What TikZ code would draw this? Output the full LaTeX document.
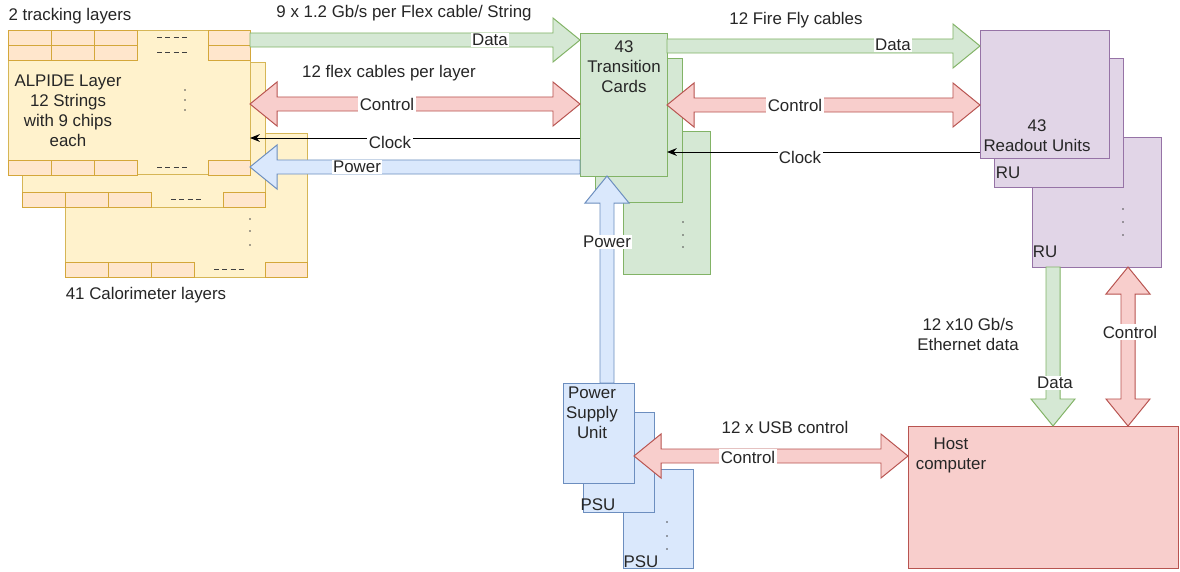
\documentclass[tikz,border=0pt]{standalone}
\usepackage{fontspec}
\setmainfont{Liberation Sans}
\usetikzlibrary{calc,fit,arrows.meta}

\definecolor{grnfill}{HTML}{D5E8D4}\definecolor{grnline}{HTML}{82B366}
\definecolor{redfill}{HTML}{F8CECC}\definecolor{redline}{HTML}{B85450}
\definecolor{bluefill}{HTML}{DAE8FC}\definecolor{blueline}{HTML}{6C8EBF}
\definecolor{purfill}{HTML}{E1D5E7}\definecolor{purline}{HTML}{9673A6}
\definecolor{yelfill}{HTML}{FFF2CC}\definecolor{yelline}{HTML}{D6B656}
\definecolor{chipfill}{HTML}{FFE6CC}\definecolor{chipline}{HTML}{D4A73A}

\tikzset{
  box/.style={draw, line width=0.7pt, inner sep=0pt, outer sep=0pt},
  layerbox/.style={box, draw=yelline, fill=yelfill},
  tcbox/.style={box, draw=grnline, fill=grnfill},
  rubox/.style={box, draw=purline, fill=purfill},
  psubox/.style={box, draw=blueline, fill=bluefill},
  hostbox/.style={box, draw=redline, fill=redfill},
  chip/.style={draw=chipline, fill=chipfill, line width=0.7pt},
  dashline/.style={draw=black!75, line width=1pt, dash pattern=on 3.5pt off 2.4pt},
  txt/.style={font=\fontsize{12}{14.2}\selectfont, text=black!85, inner sep=1pt, align=center},
  lbl/.style={txt, fill=white},
  dataarr/.style={draw=grnline, fill=grnfill, line width=0.7pt, line join=miter},
  ctrlarr/.style={draw=redline, fill=redfill, line width=0.7pt, line join=miter},
  pwrarr/.style={draw=blueline, fill=bluefill, line width=0.7pt, line join=miter},
  clk/.style={draw=black, line width=0.7pt, -{Stealth[length=7pt,width=5.5pt]}}
}

% wide arrow, tip at #3
\newcommand{\flexto}[3]{%
  \draw[#1] ($(#2)!0.175cm!-90:(#3)$)
    -- ($(#3)!0.675cm!(#2)!0.175cm!90:(#2)$)
    -- ($(#3)!0.675cm!(#2)!0.55cm!90:(#2)$)
    -- (#3)
    -- ($(#3)!0.675cm!(#2)!0.55cm!-90:(#2)$)
    -- ($(#3)!0.675cm!(#2)!0.175cm!-90:(#2)$)
    -- ($(#2)!0.175cm!90:(#3)$) -- cycle;}
% wide arrow, tips at both ends
\newcommand{\flexboth}[3]{%
  \draw[#1] (#2)
    -- ($(#2)!0.675cm!(#3)!0.55cm!-90:(#3)$)
    -- ($(#2)!0.675cm!(#3)!0.175cm!-90:(#3)$)
    -- ($(#3)!0.675cm!(#2)!0.175cm!90:(#2)$)
    -- ($(#3)!0.675cm!(#2)!0.55cm!90:(#2)$)
    -- (#3)
    -- ($(#3)!0.675cm!(#2)!0.55cm!-90:(#2)$)
    -- ($(#3)!0.675cm!(#2)!0.175cm!-90:(#2)$)
    -- ($(#2)!0.675cm!(#3)!0.175cm!90:(#3)$)
    -- ($(#2)!0.675cm!(#3)!0.55cm!90:(#3)$)
    -- cycle;}
% row of chips: left x, right x, top y
\newcommand{\chiprow}[3]{%
  \foreach \k in {0,1,2} \draw[chip] ({#1+43*\k},#3) rectangle ++(43,15);
  \draw[chip] ({#2-42},#3) rectangle (#2,#3+15);
  \draw[dashline] ({#1+149},#3+7.5) -- ++(30,0);}

\begin{document}
\begin{tikzpicture}[x=0.025cm, y=-0.025cm]
\useasboundingbox (0,0) rectangle (1180,572);
\fill[white] (0,0) rectangle (1180,572);

% detector layers
\node[layerbox, fit={(65,133) (307,277)}] (cal2) {};
\chiprow{65}{307}{262}
\foreach \yy in {219,231,245} \fill[black!70] (250,\yy) circle (0.55pt);
\node[layerbox, fit={(22,62) (265,207)}] (cal1) {};
\chiprow{22}{265}{192}
\node[layerbox, fit={(8,30) (250,174)}] (trk) {};
\chiprow{8}{250}{30}
\chiprow{8}{250}{45}
\chiprow{8}{250}{160}
\foreach \yy in {90,100,110} \fill[black!70] (185,\yy) circle (0.55pt);
\node[txt] (trktxt) at (68,111) {ALPIDE Layer\\12 Strings\\with 9 chips\\each};
\node[txt] (trkttl) at (70,16) {2 tracking layers};
\node[txt] (calttl) at (146,295) {41 Calorimeter layers};

% transition cards
\node[tcbox, fit={(623,131) (710,274)}] (tc3) {};
\node[tcbox, fit={(595,58) (682,202)}] (tc2) {};
\node[tcbox, fit={(580,33) (667,176)}] (tc) {};
\foreach \yy in {222,235,247} \fill[black!70] (683,\yy) circle (0.55pt);
\node[txt] (tctxt) at (624,66.5) {43\\Transition\\Cards};

% readout units
\node[rubox, fit={(1032,137) (1161,267)}] (ru3) {};
\node[rubox, fit={(994,58) (1123,187)}] (ru2) {};
\node[rubox, fit={(980,30) (1109,158)}] (ru) {};
\foreach \yy in {209,222,235} \fill[black!70] (1123,\yy) circle (0.55pt);
\node[txt] (rutxt) at (1037,135.5) {43\\Readout Units};
\node[txt] (ru2txt) at (1008,173) {RU};
\node[txt] (ru3txt) at (1045,252) {RU};

% power supplies
\node[psubox, fit={(623,469) (693,568)}] (psu3) {};
\node[psubox, fit={(583,412) (654,512)}] (psu2) {};
\node[psubox, fit={(563,383) (634,483)}] (psu) {};
\foreach \yy in {522,536,549} \fill[black!70] (667,\yy) circle (0.55pt);
\node[txt] (psutxt) at (592,413) {Power\\Supply\\Unit};
\node[txt] (psu2txt) at (598,505) {PSU};
\node[txt] (psu3txt) at (641,562) {PSU};

% host
\node[hostbox, fit={(908,426) (1178,568)}] (host) {};
\node[txt] (hosttxt) at (951,455) {Host\\computer};

% links
\flexto{dataarr}{trk.east |- 0,40}{tc.west |- 0,40}
\flexboth{ctrlarr}{trk.east |- 0,104}{tc.west |- 0,104}
\draw[clk] (tc.west |- 0,138) -- (trk.east |- 0,138);
\flexto{pwrarr}{tc.west |- 0,167}{trk.east |- 0,167}
\flexto{dataarr}{tc.east |- 0,46}{ru.west |- 0,46}
\flexboth{ctrlarr}{tc.east |- 0,105}{ru.west |- 0,105}
\draw[clk] (ru.west |- 0,152) -- (tc.east |- 0,152);
\flexto{pwrarr}{psu.north -| 607,0}{tc.south -| 607,0}
\flexboth{ctrlarr}{psu.east |- 0,456}{host.west |- 0,456}
\flexto{dataarr}{ru3.south -| 1053,0}{host.north -| 1053,0}
\flexboth{ctrlarr}{ru3.south -| 1128,0}{host.north -| 1128,0}

% link labels
\node[txt] (flexrate) at (404,13) {9 x 1.2 Gb/s per Flex cable/ String};
\node[txt] (flexnum) at (389,73) {12 flex cables per layer};
\node[txt] (ffly) at (796,20) {12 Fire Fly cables};
\node[txt] (ethrate) at (968,334) {12 x10 Gb/s\\Ethernet data};
\node[txt] (usbnum) at (785,427) {12 x USB control};
\node[lbl] (dlbl1) at (490,40) {Data};
\node[lbl] (clbl1) at (387,104) {Control};
\node[lbl] (klbl1) at (390,142) {Clock};
\node[lbl] (plbl1) at (357,167) {Power};
\node[lbl] (dlbl2) at (893,45) {Data};
\node[lbl] (clbl2) at (795,105) {Control};
\node[lbl] (klbl2) at (800,157) {Clock};
\node[lbl] (plbl2) at (607,242) {Power};
\node[lbl] (dlbl3) at (1055,383) {Data};
\node[lbl] (clbl3) at (1130,332) {Control};
\node[lbl] (clbl4) at (748,457) {Control};
\end{tikzpicture}
\end{document}
